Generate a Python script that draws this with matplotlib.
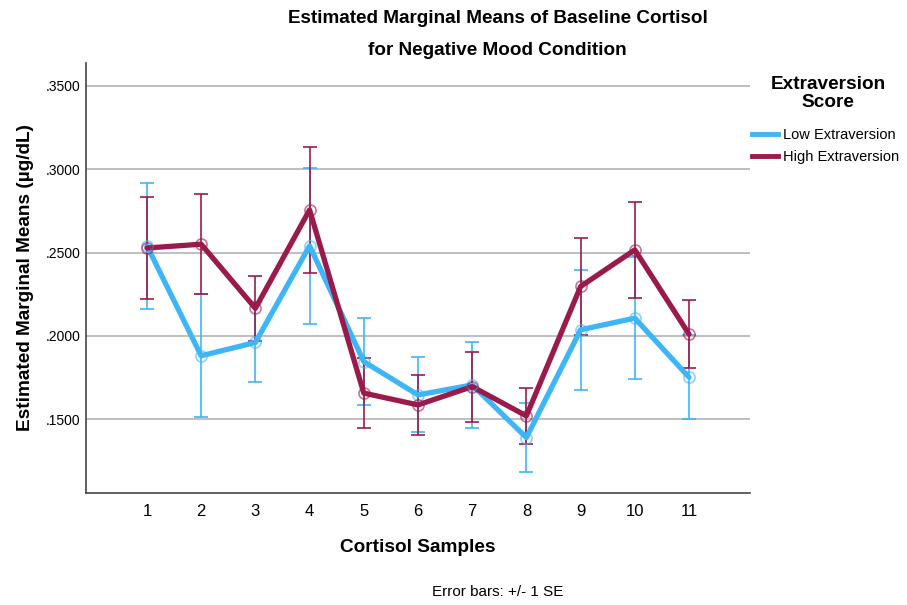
import matplotlib.pyplot as plt
from matplotlib.lines import Line2D

plt.rcParams['font.family'] = ['Liberation Sans', 'DejaVu Sans']

samples = list(range(1, 12))

low_mean = [0.2540, 0.1880, 0.1960, 0.2540, 0.1845, 0.1645, 0.1705, 0.1389, 0.2036, 0.2106, 0.1751]
low_se = [0.0380, 0.0370, 0.0240, 0.0470, 0.0260, 0.0225, 0.0257, 0.0205, 0.0362, 0.0366, 0.0251]

high_mean = [0.2527, 0.2550, 0.2165, 0.2756, 0.1656, 0.1585, 0.1695, 0.1519, 0.2296, 0.2516, 0.2010]
high_se = [0.0307, 0.0300, 0.0195, 0.0378, 0.0210, 0.0178, 0.0210, 0.0166, 0.0292, 0.0290, 0.0202]

low_color = '#3db5f7'
high_color = '#9b1a4c'

fig = plt.figure(figsize=(9.07, 6.05), dpi=100)
ax = fig.add_axes([0.0948, 0.1851, 0.7321, 0.7108])

for mean, se, col, lab in [(low_mean, low_se, low_color, 'Low Extraversion'),
                           (high_mean, high_se, high_color, 'High Extraversion')]:
    ax.errorbar(samples, mean, yerr=se, fmt='none', ecolor=col, elinewidth=1.4,
                capsize=5, capthick=1.4, alpha=0.85, zorder=3)
    ax.plot(samples, mean, color=col, lw=3.8, zorder=4, label=lab,
            solid_capstyle='round', solid_joinstyle='round')
    ax.plot(samples, mean, 'o', ms=8, mfc='none', mec=col, mew=1.2, alpha=0.6, zorder=5)

ax.set_xlim(-0.125, 12.125)
ax.set_ylim(0.1056, 0.3638)
ax.set_xticks(samples)
ax.set_yticks([0.15, 0.20, 0.25, 0.30, 0.35])
ax.set_yticklabels(['.1500', '.2000', '.2500', '.3000', '.3500'], fontsize=10)
ax.tick_params(axis='x', length=0, labelsize=12, pad=8)
ax.tick_params(axis='y', length=0, pad=4)
ax.grid(axis='y', color='#b4b4b4', lw=1.2)
ax.set_axisbelow(True)
for s in ['top', 'right']:
    ax.spines[s].set_visible(False)
for s in ['left', 'bottom']:
    ax.spines[s].set_color('#444444')
    ax.spines[s].set_linewidth(1.2)

ax.set_xlabel('Cortisol Samples', fontsize=13.7, fontweight='bold', labelpad=14)
ax.set_ylabel('Estimated Marginal Means (µg/dL)', fontsize=13.7, fontweight='bold', labelpad=8)

fig.text(0.5485, 0.969, 'Estimated Marginal Means of Baseline Cortisol', ha='center', va='center',
         fontsize=13.6, fontweight='bold')
fig.text(0.5485, 0.916, 'for Negative Mood Condition', ha='center', va='center',
         fontsize=13.6, fontweight='bold')
fig.text(0.5485, 0.021, 'Error bars: +/- 1 SE', ha='center', va='center', fontsize=11)

# legend title, centred over the entries
fig.text(0.913, 0.846, 'Extraversion\nScore', ha='center', va='center', fontsize=13.7,
         fontweight='bold', multialignment='center', linespacing=1.1)

handles = [Line2D([0], [0], color=low_color, lw=3.5), Line2D([0], [0], color=high_color, lw=3.5)]
fig.legend(handles, ['Low Extraversion', 'High Extraversion'], loc='upper left',
           bbox_to_anchor=(0.829, 0.789), frameon=False, fontsize=10.5,
           handlelength=1.8, handletextpad=0.3, labelspacing=0.55, borderaxespad=0,
           borderpad=0)

fig.savefig('out.png', dpi=100)
